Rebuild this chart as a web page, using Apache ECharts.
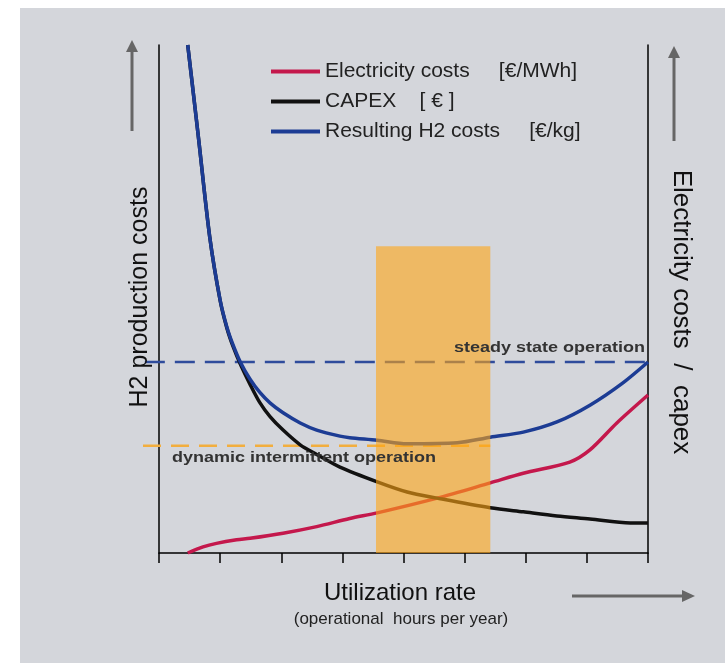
<!DOCTYPE html>
<html><head><meta charset="utf-8">
<script src="https://cdn.jsdelivr.net/npm/echarts@6/dist/echarts.min.js"></script>
<style>html,body{margin:0;padding:0;background:#fff}#c{width:725px;height:663px}</style>
</head><body><div id="c"></div>
<script>
// Utilization units (0..8 ticks), cost index (0..100)
var xTicks = [0,1,2,3,4,5,6,7,8];
var h2X   = [0.47,0.56,0.65,0.83,1.00,1.11,1.21,1.33,1.49,1.65,1.82,2.03,2.31,2.58,2.96,3.12,3.57,4.06,4.88,5.42,5.96,6.51,7.05,7.59,8];
var h2Y   = [100,90.7,81.3,62.2,49.8,44.5,41.0,37.6,34.2,31.6,29.5,27.6,25.6,24.2,23.0,22.7,22.2,21.5,21.7,22.8,23.8,25.8,29.1,33.5,37.6];
var capexX = [0.47,0.56,0.65,0.83,1.00,1.11,1.21,1.33,1.49,1.65,1.82,2.03,2.31,2.58,2.96,3.57,4.06,4.55,5.42,5.96,6.51,7.05,7.71,8];
var capexY = [100,90.7,81.3,62.2,49.7,44.3,40.7,37.2,33.2,29.6,26.8,24.2,21.3,19.4,16.9,14.0,12.0,10.8,8.9,8.1,7.3,6.7,5.9,5.9];
var elecX = [0.47,0.72,0.94,1.27,1.49,2.03,2.58,3.12,3.57,4.55,5.42,5.96,6.72,7.05,7.49,8];
var elecY = [0,1.2,1.9,2.6,2.9,3.9,5.2,6.8,7.9,10.8,13.8,15.7,17.9,20.3,25.6,31.1];
var steadyX = [-0.23, 8];
var steadyY = [37.6, 37.6];
var dynX = [-0.26, 5.42];
var dynY = [21.1, 21.1];
var bandX = [3.55, 5.42];
var bandTop = 60.4;
var names = ['Electricity costs','CAPEX','Resulting H2 costs'];
var units = ['[€/MWh]','[ € ]','[€/kg]'];

function zip(a,b){return a.map(function(v,i){return [v,b[i]];});}

var chart = echarts.init(document.getElementById('c'), null, {renderer:'canvas'});
var font = 'Liberation Sans, Arial, sans-serif';
var hidden = {show:false};
var gaps = ['     ','    ','     '];
chart.setOption({
  backgroundColor:'#ffffff',
  animation:false,
  textStyle:{fontFamily:font},
  grid:[{left:159,right:77,top:45,bottom:110},{left:143,right:77,top:45,bottom:110}],
  legend:{
    orient:'vertical', left:266, top:56, itemWidth:49, itemHeight:4, itemGap:9,
    icon:'rect',
    data:names,
    formatter:function(n){var i=names.indexOf(n);return n+gaps[i]+units[i];},
    textStyle:{fontSize:21,lineHeight:21,color:'#222',fontFamily:font}
  },
  xAxis:[{type:'value',min:0,max:8,interval:1,gridIndex:0,
    axisLine:{show:true,lineStyle:{color:'#000',width:1.5}},
    axisTick:{show:true,length:10,inside:false,lineStyle:{color:'#000',width:1.5}},
    axisLabel:{show:false},splitLine:{show:false}},
    {type:'value',min:-0.26,max:8,gridIndex:1,show:false,axisLine:hidden,axisTick:hidden,axisLabel:hidden,splitLine:hidden}],
  yAxis:[
    {type:'value',min:0,max:100,position:'left',gridIndex:0,
     axisLine:{show:true,lineStyle:{color:'#000',width:1.5}},axisTick:{show:false},axisLabel:{show:false},splitLine:{show:false}},
    {type:'value',min:0,max:100,position:'right',gridIndex:0,
     axisLine:{show:true,lineStyle:{color:'#000',width:1.5}},axisTick:{show:false},axisLabel:{show:false},splitLine:{show:false}},
    {type:'value',min:0,max:100,gridIndex:1,show:false,axisLine:hidden,axisTick:hidden,axisLabel:hidden,splitLine:hidden}
  ],
  graphic:[
    {type:'rect',z:-100,silent:true,shape:{x:20,y:8,width:705,height:655},style:{fill:'#d4d6db'}},
    // arrows
    {type:'line',z:100,shape:{x1:132,y1:131,x2:132,y2:50},style:{stroke:'#666',lineWidth:3}},
    {type:'polygon',z:100,shape:{points:[[126,52],[138,52],[132,40]]},style:{fill:'#666'}},
    {type:'line',z:100,shape:{x1:674,y1:141,x2:674,y2:56},style:{stroke:'#666',lineWidth:3}},
    {type:'polygon',z:100,shape:{points:[[668,58],[680,58],[674,46]]},style:{fill:'#666'}},
    {type:'line',z:100,shape:{x1:572,y1:596,x2:684,y2:596},style:{stroke:'#666',lineWidth:3}},
    {type:'polygon',z:100,shape:{points:[[682,590],[682,602],[695,596]]},style:{fill:'#666'}},
    // axis titles
    {type:'text',z:100,x:140,y:297,rotation:Math.PI/2,style:{text:'H2 production costs',fill:'#111',font:'25px '+font,textAlign:'center',textVerticalAlign:'middle'}},
    {type:'text',z:100,x:681,y:312,rotation:-Math.PI/2,style:{text:'Electricity costs  /  capex',fill:'#111',font:'26px '+font,textAlign:'center',textVerticalAlign:'middle'}},
    {type:'text',z:100,x:400,y:593,style:{text:'Utilization rate',font:'24px '+font,fill:'#111',textAlign:'center',textVerticalAlign:'middle'}},
    {type:'text',z:100,x:401,y:619,style:{text:'(operational  hours per year)',font:'17px '+font,fill:'#222',textAlign:'center',textVerticalAlign:'middle'}},
    {type:'text',z:100,x:645,y:348,scaleX:1.2,style:{text:'steady state operation',font:'bold 15px '+font,fill:'#333',textAlign:'right',textVerticalAlign:'middle'}},
    {type:'text',z:100,x:172,y:458,scaleX:1.2,style:{text:'dynamic intermittent operation',font:'bold 15px '+font,fill:'#333',textAlign:'left',textVerticalAlign:'middle'}}
  ],
  series:[
    {name:'steady',type:'line',xAxisIndex:1,yAxisIndex:2,data:zip(steadyX,steadyY),symbol:'none',z:3,
     lineStyle:{color:'#2f4c9c',width:2.5,type:[20,10]}},
    {name:'dyn',type:'line',xAxisIndex:1,yAxisIndex:2,data:zip(dynX,dynY),symbol:'none',z:3,
     lineStyle:{color:'#f2ae3e',width:2.5,type:[18,10]}},
    {name:names[0],type:'line',data:zip(elecX,elecY),smooth:0.3,symbol:'none',z:4,
     itemStyle:{color:'#c4184c'},lineStyle:{color:'#c4184c',width:3.5}},
    {name:names[1],type:'line',data:zip(capexX,capexY),smooth:0.3,symbol:'none',z:4,
     itemStyle:{color:'#111'},lineStyle:{color:'#111',width:3.5}},
    {name:names[2],type:'line',data:zip(h2X,h2Y),smooth:0.3,symbol:'none',z:5,
     itemStyle:{color:'#1c3c94'},lineStyle:{color:'#1c3c94',width:3.5}},
    {name:'band',type:'custom',z:10,silent:true,data:[[bandX[0],bandX[1],bandTop]],
     renderItem:function(params,api){
       var p0=api.coord([api.value(0),0]);
       var p1=api.coord([api.value(1),api.value(2)]);
       return {type:'rect',shape:{x:p0[0],y:p1[1],width:p1[0]-p0[0],height:p0[1]-p1[1]},
               style:{fill:'rgba(255,165,20,0.6)'}};
     }}
  ]
});
</script></body></html>
